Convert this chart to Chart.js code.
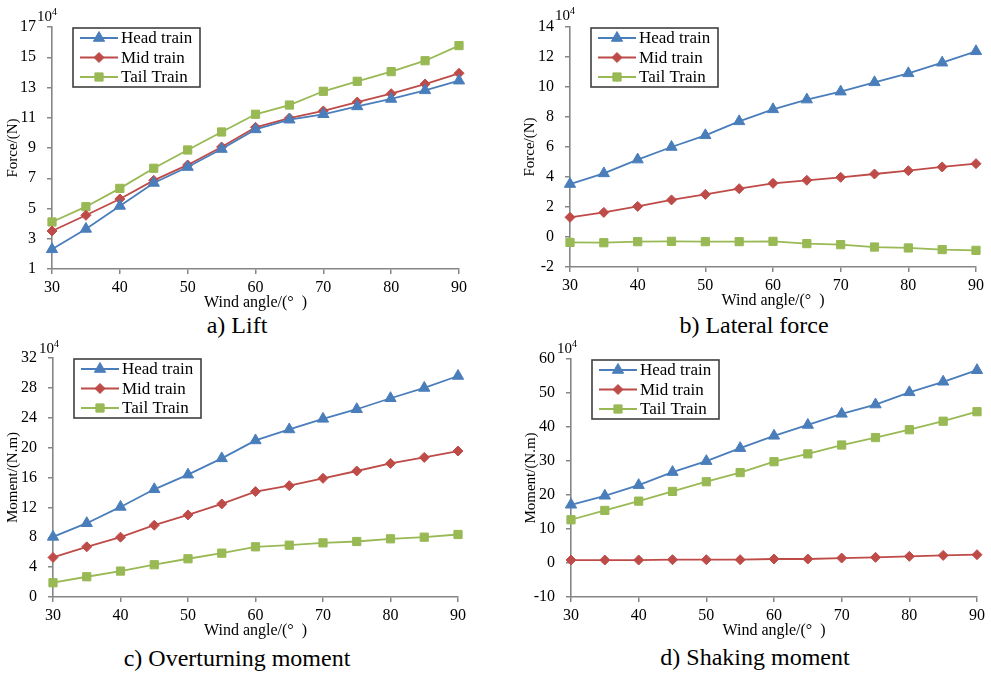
<!DOCTYPE html>
<html>
<head>
<meta charset="utf-8">
<script src="https://cdn.jsdelivr.net/npm/chart.js@4.4.0/dist/chart.umd.min.js"></script>
<style>
  body { margin: 0; background: #fff; width: 991px; height: 673px; overflow: hidden; position: relative;
         font-family: "Liberation Serif", "Times New Roman", serif; color: #000; }
  canvas { position: absolute; }
  .exp { position: absolute; font-size: 15px; line-height: 1; }
  .exp sup { font-size: 10px; vertical-align: 6px; }
  .cap { position: absolute; font-size: 24px; line-height: 1; white-space: nowrap; transform: translate(-50%, -50%); }
</style>
</head>
<body>
<script>
// wind angles (x values)
const angles = [30, 35, 40, 45, 50, 55, 60, 65, 70, 75, 80, 85, 90];
const xTicks = [30, 40, 50, 60, 70, 80, 90];
const seriesNames = ['Head train', 'Mid train', 'Tail Train'];

// a) Lift, x10^4 N
const liftHead = [2.3, 3.65, 5.17, 6.69, 7.74, 8.93, 10.23, 10.87, 11.23, 11.75, 12.24, 12.81, 13.45];
const liftMid  = [3.51, 4.55, 5.63, 6.86, 7.88, 9.07, 10.37, 10.98, 11.45, 12.04, 12.59, 13.23, 13.94];
const liftTail = [4.11, 5.12, 6.33, 7.66, 8.87, 10.06, 11.23, 11.84, 12.75, 13.41, 14.05, 14.77, 15.77];
const liftTicks = [1, 3, 5, 7, 9, 11, 13, 15, 17];

// b) Lateral force, x10^4 N
const latHead = [3.53, 4.24, 5.16, 6.0, 6.78, 7.71, 8.51, 9.16, 9.69, 10.31, 10.91, 11.62, 12.38];
const latMid  = [1.31, 1.64, 2.04, 2.47, 2.84, 3.22, 3.58, 3.78, 3.98, 4.2, 4.42, 4.67, 4.89];
const latTail = [-0.36, -0.38, -0.31, -0.29, -0.31, -0.31, -0.29, -0.44, -0.51, -0.67, -0.73, -0.84, -0.89];
const latTicks = [-2, 0, 2, 4, 6, 8, 10, 12, 14];

// c) Overturning moment, x10^4 N.m
const overHead = [8.05, 9.88, 12.06, 14.42, 16.38, 18.56, 20.96, 22.43, 23.85, 25.14, 26.61, 27.99, 29.59];
const overMid  = [5.3, 6.72, 8.01, 9.61, 10.99, 12.46, 14.11, 14.91, 15.89, 16.87, 17.89, 18.69, 19.54];
const overTail = [1.91, 2.71, 3.47, 4.32, 5.12, 5.87, 6.72, 6.94, 7.25, 7.43, 7.79, 8.01, 8.37];
const overTicks = [0, 4, 8, 12, 16, 20, 24, 28, 32];

// d) Shaking moment, x10^4 N.m
const shakeHead = [17.13, 19.77, 22.9, 26.73, 29.96, 33.78, 37.4, 40.6, 43.87, 46.6, 50.2, 53.3, 56.7];
const shakeMid  = [0.87, 0.87, 0.87, 0.97, 0.97, 0.97, 1.17, 1.17, 1.46, 1.66, 1.95, 2.24, 2.44];
const shakeTail = [12.72, 15.47, 18.2, 21.05, 23.9, 26.6, 29.8, 32.1, 34.7, 36.9, 39.2, 41.7, 44.5];
const shakeTicks = [-10, 0, 10, 20, 30, 40, 50, 60];

const colors = ['#4a7ebb', '#be4b48', '#98b954'];
const markers = [
  { style: 'triangle', radius: 6.5 },
  { style: 'rectRot', radius: 5 },
  { style: 'rect', radius: 5.8 }
];
const axisColor = '#868686';
const serif = '"Liberation Serif", "Times New Roman", serif';

// plot-area boxes
const panels = [
  { id: 'a', caption: 'a) Lift', yTitle: 'Force/(N)', series: [liftHead, liftMid, liftTail], ticks: liftTicks,
    L: 52, R: 459, T: 27, B: 269, titleX: 13, cx: 0, cy: 0, cw: 490, capX: 237, capY: 325, expX: 37, expY: 7 },
  { id: 'b', caption: 'b) Lateral force', yTitle: 'Force/(N)', series: [latHead, latMid, latTail], ticks: latTicks,
    L: 570, R: 976, T: 27, B: 267, titleX: 530, cx: 495, cy: 0, cw: 496, capX: 754, capY: 325, expX: 555, expY: 6 },
  { id: 'c', caption: 'c) Overturning moment', yTitle: 'Moment/(N.m)', series: [overHead, overMid, overTail], ticks: overTicks,
    L: 53, R: 458, T: 358, B: 597, titleX: 13, cx: 0, cy: 335, cw: 490, capX: 237, capY: 658, expX: 39, expY: 339 },
  { id: 'd', caption: 'd) Shaking moment', yTitle: 'Moment/(N.m)', series: [shakeHead, shakeMid, shakeTail], ticks: shakeTicks,
    L: 571, R: 977, T: 359, B: 597, titleX: 531, cx: 495, cy: 335, cw: 496, capX: 755, capY: 657, expX: 557, expY: 339 }
];

// boxed legend drawn inside the top-left of the plot area
const insideLegend = {
  id: 'insideLegend',
  afterDraw(chart) {
    const { ctx, chartArea } = chart;
    const x0 = chartArea.left + 21;
    const y0 = chartArea.top + 1;
    const w = 127, h = 59;
    ctx.save();
    ctx.strokeStyle = '#3f3f3f';
    ctx.lineWidth = 1.6;
    ctx.strokeRect(x0, y0, w, h);
    ctx.font = '17px ' + serif;
    ctx.textBaseline = 'middle';
    chart.data.datasets.forEach((ds, i) => {
      const y = y0 + 10 + i * 19.5;
      ctx.strokeStyle = ds.borderColor;
      ctx.lineWidth = ds.borderWidth;
      ctx.beginPath();
      ctx.moveTo(x0 + 7, y);
      ctx.lineTo(x0 + 45, y);
      ctx.stroke();
      ctx.fillStyle = ds.pointBackgroundColor;
      ctx.strokeStyle = ds.pointBorderColor;
      ctx.lineWidth = 1;
      Chart.helpers.drawPoint(ctx, { pointStyle: ds.pointStyle, radius: ds.pointRadius, rotation: 0, borderWidth: 1 }, x0 + 26, y);
      ctx.fillStyle = '#000';
      ctx.fillText(ds.label, x0 + 48, y + 1);
    });
    ctx.restore();
  }
};

panels.forEach((p) => {
  const canvas = document.createElement('canvas');
  const ch = p.B - p.cy + 43;
  canvas.style.left = p.cx + 'px';
  canvas.style.top = p.cy + 'px';
  canvas.style.width = p.cw + 'px';
  canvas.style.height = ch + 'px';
  canvas.width = p.cw;
  canvas.height = ch;
  document.body.appendChild(canvas);

  const exp = document.createElement('div');
  exp.className = 'exp';
  exp.style.left = p.expX + 'px';
  exp.style.top = p.expY + 'px';
  exp.innerHTML = '10<sup>4</sup>';
  document.body.appendChild(exp);

  const cap = document.createElement('div');
  cap.className = 'cap';
  cap.style.left = p.capX + 'px';
  cap.style.top = p.capY + 'px';
  cap.textContent = p.caption;
  document.body.appendChild(cap);

  const padLeft = p.titleX - 9 - p.cx;
  const yWidth = p.L - p.cx - padLeft;

  new Chart(canvas, {
    type: 'line',
    data: {
      datasets: p.series.map((vals, i) => ({
        label: seriesNames[i],
        data: angles.map((a, j) => ({ x: a, y: vals[j] })),
        borderColor: colors[i],
        borderWidth: 1.8,
        pointStyle: markers[i].style,
        pointRadius: markers[i].radius,
        pointBackgroundColor: colors[i],
        pointBorderColor: colors[i],
        pointBorderWidth: 1,
        clip: false
      }))
    },
    options: {
      responsive: false,
      animation: false,
      layout: { padding: { left: padLeft, top: p.T - p.cy, right: p.cx + p.cw - p.R, bottom: 0 } },
      plugins: { legend: { display: false }, tooltip: { enabled: false } },
      scales: {
        x: {
          type: 'linear',
          min: xTicks[0],
          max: xTicks[xTicks.length - 1],
          ticks: { stepSize: xTicks[1] - xTicks[0], color: '#000', font: { family: serif, size: 16 }, padding: 4 },
          grid: { drawOnChartArea: false, drawTicks: true, tickLength: 5, color: axisColor, lineWidth: 1.5 },
          border: { color: axisColor, width: 1.6 },
          title: { display: true, text: 'Wind angle/(°  )', color: '#000', font: { family: serif, size: 16 }, padding: 0 },
          afterFit: (s) => { s.height = 43; }
        },
        y: {
          min: p.ticks[0],
          max: p.ticks[p.ticks.length - 1],
          ticks: { stepSize: p.ticks[1] - p.ticks[0], color: '#000', font: { family: serif, size: 16 }, padding: 11 },
          grid: { drawOnChartArea: false, drawTicks: true, tickLength: 5, color: axisColor, lineWidth: 1.5 },
          border: { color: axisColor, width: 1.6 },
          title: { display: true, text: p.yTitle, color: '#000', font: { family: serif, size: 15 }, padding: 0 },
          afterFit: (s) => { s.width = yWidth; }
        }
      }
    },
    plugins: [insideLegend]
  });
});
</script>
</body>
</html>
